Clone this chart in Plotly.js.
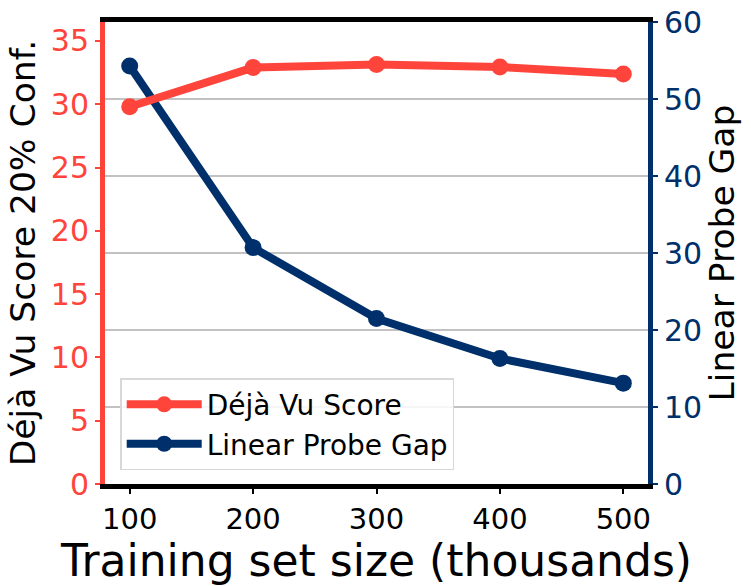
<!DOCTYPE html>
<html>
<head>
<meta charset="utf-8">
<script src="https://cdn.plot.ly/plotly-3.0.1.min.js"></script>
<style>html,body{margin:0;padding:0;background:#fff;}#chart{width:751px;height:586px;}</style>
</head>
<body>
<div id="chart"></div>
<script>
const trainingSize = [100, 200, 300, 400, 500];
const dejaVuScore = [29.8, 32.9, 33.15, 32.95, 32.4];
const linearProbeGap = [54.3, 30.7, 21.5, 16.3, 13.1];
const xTicks = [100, 200, 300, 400, 500];
const leftTicks = [0, 5, 10, 15, 20, 25, 30, 35];
const rightTicks = [0, 10, 20, 30, 40, 50, 60];

const RED = '#FF443C';
const BLUE = '#00306B';
const FONT = 'DejaVu Sans, sans-serif';

const data = [
  {
    x: trainingSize, y: dejaVuScore, name: 'Déjà Vu Score',
    type: 'scatter', mode: 'lines+markers', yaxis: 'y2',
    line: {color: RED, width: 8}, marker: {color: RED, size: 17}
  },
  {
    x: trainingSize, y: linearProbeGap, name: 'Linear Probe Gap',
    type: 'scatter', mode: 'lines+markers', yaxis: 'y',
    line: {color: BLUE, width: 8}, marker: {color: BLUE, size: 17}
  }
];

const layout = {
  width: 751, height: 586,
  margin: {l: 105, r: 103, t: 22, b: 102},
  paper_bgcolor: '#fff', plot_bgcolor: '#fff',
  font: {family: FONT, color: '#000'},
  showlegend: true,
  legend: {
    x: 0.028, y: 0.03, xanchor: 'left', yanchor: 'bottom',
    bgcolor: 'rgba(255,255,255,0.85)', bordercolor: '#d8d8d8', borderwidth: 1.5,
    font: {family: FONT, size: 28, color: '#000'},
    itemwidth: 75, tracegroupgap: 4
  },
  xaxis: {
    range: [80, 520], tickvals: xTicks, ticktext: xTicks.map(String),
    ticks: 'outside', ticklen: 5, tickwidth: 2, tickcolor: '#000',
    tickfont: {family: FONT, size: 29, color: '#000'},
    showline: true, linecolor: '#000', linewidth: 5, mirror: true,
    showgrid: false, zeroline: false,
    title: {text: 'Training set size (thousands)', font: {family: FONT, size: 44, color: '#000'}, standoff: 3}
  },
  yaxis: {
    side: 'right', range: [0, 60], tickvals: rightTicks, ticktext: rightTicks.map(String),
    ticks: 'outside', ticklen: 5, tickwidth: 2, tickcolor: BLUE,
    tickfont: {family: FONT, size: 30, color: BLUE},
    showline: true, linecolor: BLUE, linewidth: 5,
    showgrid: true, gridcolor: '#c2c2c2', gridwidth: 2.5, zeroline: false,
    title: {text: 'Linear Probe Gap', font: {family: FONT, size: 34.5, color: '#000'}, standoff: 6}
  },
  yaxis2: {
    overlaying: 'y', side: 'left', range: [0, 36.5], tickvals: leftTicks, ticktext: leftTicks.map(String),
    ticks: 'outside', ticklen: 5, tickwidth: 2, tickcolor: RED,
    tickfont: {family: FONT, size: 30, color: RED},
    showline: true, linecolor: RED, linewidth: 5,
    showgrid: false, zeroline: false,
    title: {text: 'Déjà Vu Score 20% Conf.', font: {family: FONT, size: 34.5, color: '#000'}, standoff: 6}
  }
};

Plotly.newPlot('chart', data, layout, {displayModeBar: false, staticPlot: true});
</script>
</body>
</html>
